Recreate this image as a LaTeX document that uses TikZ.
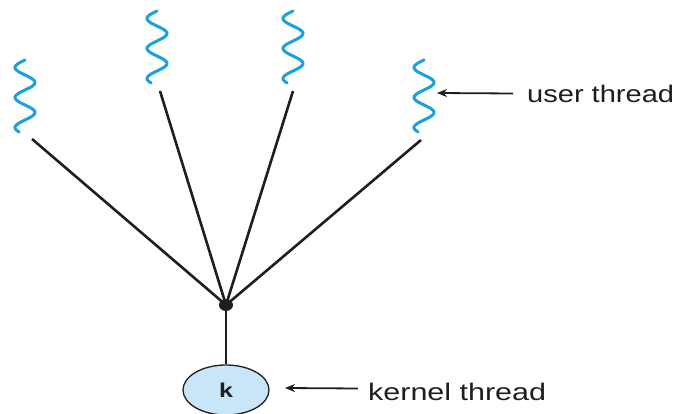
\documentclass[tikz,border=0pt]{standalone}
\usepackage{fontspec}
\setmainfont{Liberation Sans}
\usetikzlibrary{arrows.meta,shapes.geometric}
\definecolor{wave}{RGB}{28,160,222}
\definecolor{kfill}{RGB}{200,230,248}
\definecolor{ink}{RGB}{30,30,30}
\tikzset{
  wavy/.style={draw=wave,line width=3pt,line cap=round},
  link/.style={draw=ink,line width=2.6pt},
  pointer/.style={draw=ink,line width=1.8pt,-{Stealth[length=10pt,width=8pt]}},
  lbl/.style={inner sep=0pt,anchor=west,text=ink,font=\fontsize{24}{28}\selectfont},
}
\newcommand{\squig}[3]{% name, cx, top
  \draw[wavy] plot[domain=0:72,samples=80,smooth] ({#2-10*sin(\x*12)},{#3+\x});
}
\begin{document}
\begin{tikzpicture}[x=1pt,y=-1pt]
\useasboundingbox (0,0) rectangle (677,414);
\squig{a}{25}{60}
\squig{b}{157}{11}
\squig{c}{293}{11}
\squig{d}{424}{60}
\coordinate (a) at (32,139);
\coordinate (b) at (160,91);
\coordinate (c) at (293,91);
\coordinate (d) at (421,140);
\coordinate (dtip) at (437,93);
\node[ellipse,fill=ink,inner sep=0pt,minimum width=14pt,minimum height=12pt] (j) at (226,305) {};
\draw[link] (a) -- (j.center);
\draw[link] (b) -- (j.center);
\draw[link] (c) -- (j.center);
\draw[link] (d) -- (j.center);
\node[ellipse,draw=ink,line width=1.3pt,fill=kfill,minimum width=86pt,minimum height=50pt,inner sep=0pt,text=ink,font=\bfseries\fontsize{20}{22}\selectfont] (k) at (226,390) {\scalebox{1.25}[1]{k}};
\draw[link] (j.center) -- (k.north);
\node[lbl] (ut) at (527,93.5) {\scalebox{1.21}[1]{user thread}};
\node[lbl] (kt) at (368,391.5) {\scalebox{1.27}[1]{kernel thread}};
\coordinate (ktip) at (285,388);
\draw[pointer] (ut.west) ++(-14,0) coordinate (us) -- (dtip);
\draw[pointer] (kt.west) ++(-10,-3) coordinate (ks) -- (ktip);
\end{tikzpicture}
\end{document}
